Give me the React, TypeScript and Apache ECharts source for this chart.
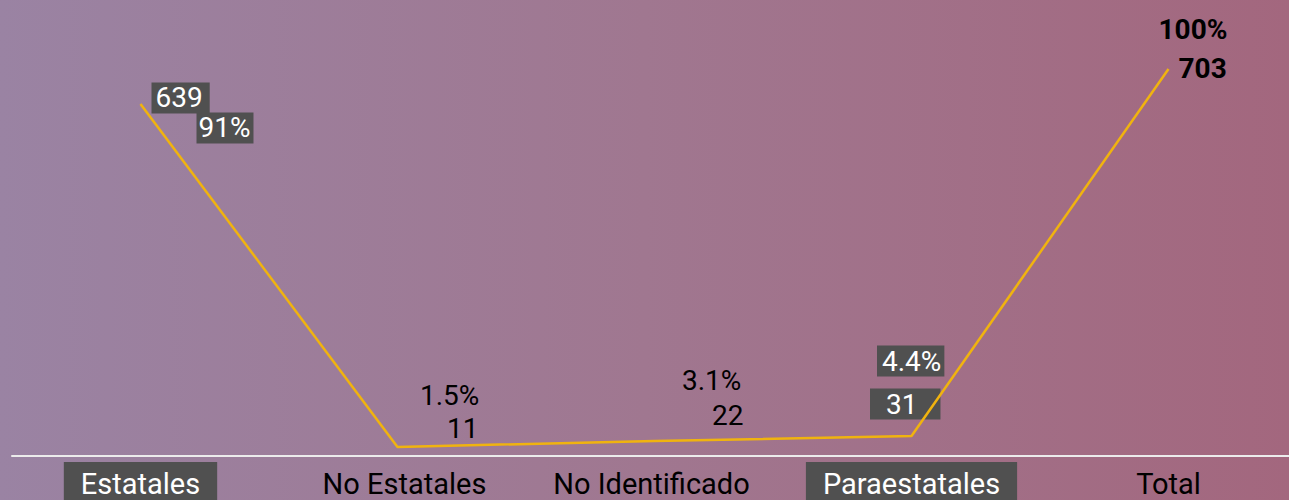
import React, { useEffect, useRef } from "react";
import * as echarts from "echarts";

const categories = ["Estatales", "No Estatales", "No Identificado", "Paraestatales", "Total"];
const counts = [639, 11, 22, 31, 703];
const percents = ["91%", "1.5%", "3.1%", "4.4%", "100%"];
const boxedCategories = ["Estatales", "Paraestatales"];
// per-category label padding (style only)
const categoryPadding: number[][] = [
  [5, 17, 6, 17],
  [5, 10, 6, 24],
  [5, 20, 6, 14],
  [5, 17, 6, 17],
  [5, 17, 6, 17],
];

// label placement (style only): [dx, dy, align, verticalAlign, boxed, padding, bold]
const countLabelStyle: any[] = [
  [11.5, -21, "left", "top", true, [0, 7, 0, 4], false],
  [50, -17.5, "left", "middle", false, 0, false],
  [58, -25, "left", "middle", false, 0, false],
  [-41, -47, "left", "top", true, [0, 23, 0, 16], false],
  [10.5, 0.5, "left", "middle", false, 0, true],
];
const pctLabelStyle: any[] = [
  [56.5, 9, "left", "top", true, [0, 3, 0, 2], false],
  [23, -51, "left", "middle", false, 0, false],
  [28, -60, "left", "middle", false, 0, false],
  [-34, -90, "left", "top", true, [0, 3, 0, 5], false],
  [-9.5, -38.5, "left", "middle", false, 0, true],
];

const BOX = "#505050";
const FONT = "Roboto";

function makeLabel(text: string, s: any[]) {
  const [dx, dy, align, va, boxed, padding, bold] = s;
  return {
    show: true,
    position: [dx, dy],
    align,
    verticalAlign: va,
    formatter: text,
    fontFamily: FONT,
    fontSize: 28,
    fontWeight: bold ? "bold" : "normal",
    lineHeight: 31,
    color: boxed ? "#ffffff" : "#000000",
    backgroundColor: boxed ? BOX : "transparent",
    padding,
    opacity: 1,
  };
}

export default function App() {
  const ref = useRef<HTMLDivElement>(null);
  useEffect(() => {
    document.body.style.margin = "0";
    const chart = echarts.init(ref.current!, null, { renderer: "svg" });
    const option: any = {
      animation: false,
      backgroundColor: new echarts.graphic.LinearGradient(0, 0, 1, 0, [
        { offset: 0, color: "#9a83a3" },
        { offset: 0.5, color: "#a07790" },
        { offset: 1, color: "#a3677e" },
      ]),
      grid: {
        left: 12,
        width: 1285,
        top: 16,
        bottom: 44,
        containLabel: false,
        outerBoundsMode: "none",
      },
      xAxis: {
        type: "category",
        boundaryGap: true,
        data: categories.map((c, i) => {
          const boxed = boxedCategories.includes(c);
          return {
            value: c,
            textStyle: boxed
              ? { backgroundColor: BOX, color: "#ffffff", padding: categoryPadding[i] }
              : { color: "#000000", padding: categoryPadding[i] },
          };
        }),
        axisLine: { show: true, onZero: false, lineStyle: { color: "#ececec", width: 2 } },
        axisTick: { show: false },
        splitLine: { show: false },
        axisLabel: {
          interval: 0,
          margin: 6,
          fontFamily: FONT,
          fontSize: 29,
          lineHeight: 34,
          padding: [5, 17, 6, 17],
        },
      },
      yAxis: {
        type: "value",
        min: -5.5,
        max: 800,
        show: false,
        splitLine: { show: false },
      },
      series: [
        {
          type: "line",
          data: counts,
          symbol: "none",
          lineStyle: { color: "#f0b30f", width: 2.5 },
          silent: true,
        },
        {
          type: "scatter",
          symbolSize: 1,
          itemStyle: { color: "rgba(0,0,0,0)", opacity: 1 },
          data: counts.map((v, i) => ({ value: [i, v], label: makeLabel(String(v), countLabelStyle[i]) })),
          silent: true,
        },
        {
          type: "scatter",
          symbolSize: 1,
          itemStyle: { color: "rgba(0,0,0,0)", opacity: 1 },
          data: counts.map((v, i) => ({ value: [i, v], label: makeLabel(percents[i], pctLabelStyle[i]) })),
          silent: true,
        },
      ],
    };
    chart.setOption(option);
    return () => chart.dispose();
  }, []);
  return (
    <div
      ref={ref}
      style={{ position: "absolute", left: 0, top: 0, width: 1289, height: 500 }}
    />
  );
}
